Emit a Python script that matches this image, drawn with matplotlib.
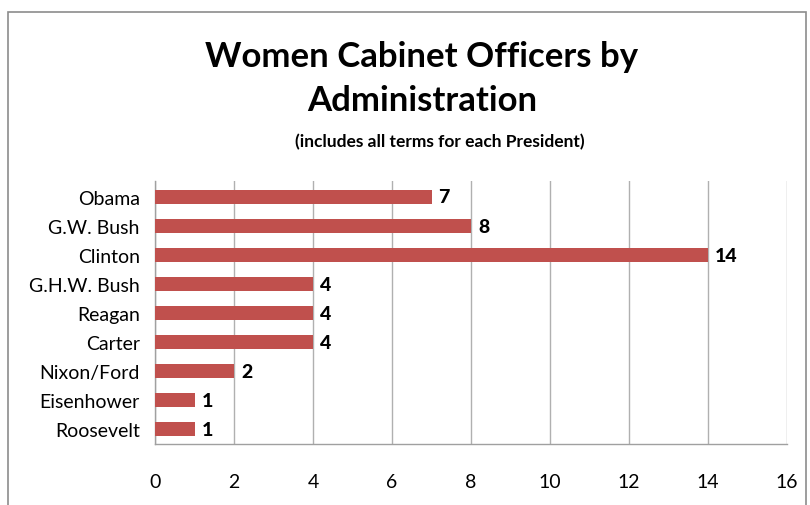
import matplotlib
matplotlib.use("Agg")
import matplotlib.pyplot as plt
from matplotlib.patches import Rectangle

categories = ["Roosevelt", "Eisenhower", "Nixon/Ford", "Carter", "Reagan",
              "G.H.W. Bush", "Clinton", "G.W. Bush", "Obama"]
values = [1, 1, 2, 4, 4, 4, 14, 8, 7]
xticks = [0, 2, 4, 6, 8, 10, 12, 14, 16]

plt.rcParams['font.family'] = ['Lato', 'DejaVu Sans']

W, H = 810, 506
fig = plt.figure(figsize=(W / 100, H / 100), dpi=100)
fig.patch.set_facecolor("white")

# chart border
fig.patches.append(Rectangle((8 / W, -0.1), (806 - 8) / W, 1.1 - 13 / H,
                             transform=fig.transFigure, fill=False,
                             edgecolor="#8c8c8c", linewidth=1.2))

ax = fig.add_axes([155 / W, (H - 445) / H, (787 - 155) / W, (445 - 182) / H])
y = list(range(len(categories)))
ax.barh(y, values, height=0.48, color="#C0504D", zorder=3)
ax.set_xlim(0, 16)
ax.set_ylim(-0.5, 8.55)
ax.set_xticks(xticks)
ax.set_xticklabels([str(t) for t in xticks], fontsize=14)
ax.set_yticks(y)
ax.set_yticklabels(categories, fontsize=14)
ax.tick_params(axis="x", length=0, pad=21)
ax.tick_params(axis="y", length=0, pad=11)
ax.grid(axis="x", color="#b0b0b0", linewidth=1, zorder=0)
for s in ["top", "right"]:
    ax.spines[s].set_visible(False)
for s in ["left", "bottom"]:
    ax.spines[s].set_color("#a0a0a0")
    ax.spines[s].set_linewidth(1)

for yi, v in zip(y, values):
    ax.annotate(str(v), (v, yi), xytext=(5, 0), textcoords="offset points",
                ha="left", va="center", fontsize=14, fontweight="black")

fig.text(422 / W, 1 - 57 / H, "Women Cabinet Officers by", ha="center",
         va="center", fontsize=25, fontweight="bold")
fig.text(422 / W, 1 - 101 / H, "Administration", ha="center",
         va="center", fontsize=25, fontweight="bold")
fig.text(440 / W, 1 - 142 / H, "(includes all terms for each President)",
         ha="center", va="center", fontsize=12.5, fontweight="bold")

fig.savefig("out.png", dpi=100)
